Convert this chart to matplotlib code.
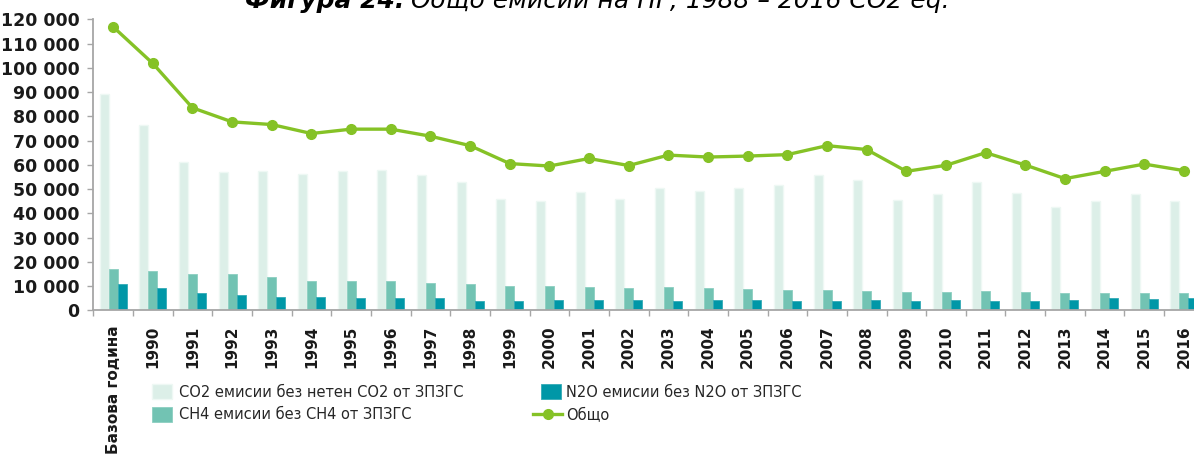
import numpy as np
import matplotlib
matplotlib.use("Agg")
import matplotlib.pyplot as plt
from matplotlib.ticker import FuncFormatter

categories = ["Базова година"] + [str(y) for y in range(1990, 2017)]
co2 = [89.4, 76.6, 61.2, 56.9, 57.6, 56.1, 57.6, 58.0, 55.7, 52.9,
       46.0, 45.0, 48.8, 45.7, 50.3, 49.3, 50.3, 51.6, 55.7, 53.7,
       45.4, 47.8, 53.0, 48.2, 42.4, 45.1, 48.1, 45.1]
ch4 = [17.0, 16.2, 15.1, 14.8, 13.9, 11.9, 11.9, 11.9, 11.3, 10.8,
       10.2, 10.2, 9.5, 9.2, 9.7, 9.0, 8.6, 8.4, 8.4, 8.1,
       7.5, 7.5, 7.9, 7.5, 7.3, 7.3, 7.3, 7.0]
n2o = [10.7, 9.3, 7.2, 6.2, 5.6, 5.5, 5.2, 5.2, 4.9, 3.9,
       3.9, 4.2, 4.2, 4.2, 3.9, 4.4, 4.4, 3.9, 3.7, 4.1,
       3.7, 4.1, 3.7, 3.7, 4.4, 5.0, 4.8, 5.2]
total = [116.9, 101.8, 83.5, 77.7, 76.6, 72.9, 74.7, 74.7, 71.8, 67.9,
         60.5, 59.5, 62.6, 59.7, 64.0, 63.2, 63.6, 64.2, 67.9, 66.3,
         57.3, 59.8, 65.0, 59.9, 54.3, 57.3, 60.3, 57.6]
scale = 1000
labels = ["CO2 емисии без нетен CO2 от ЗПЗГС", "CH4 емисии без CH4 от ЗПЗГС",
          "N2O емисии без N2O от ЗПЗГС", "Общо"]

W, H = 1194, 454
fig = plt.figure(figsize=(W / 100, H / 100), dpi=100)
ax = fig.add_axes([93.3 / W, (H - 310.3) / H, 1110.5 / W, 291.0 / H])

x = np.arange(len(categories))
bw = 0.227
b1 = ax.bar(x - bw, np.array(co2) * scale, bw, color="#dcefe8", edgecolor="#eef8f4",
            linewidth=1.0, label=labels[0], zorder=2)
b2 = ax.bar(x, np.array(ch4) * scale, bw, color="#72c3b3", edgecolor="#8ccfc1",
            linewidth=0.6, label=labels[1], zorder=2)
b3 = ax.bar(x + bw, np.array(n2o) * scale, bw, color="#0097a7", edgecolor="#33aab6",
            linewidth=0.6, label=labels[2], zorder=2)
ln, = ax.plot(x, np.array(total) * scale, color="#85c226", lw=2.4, marker="o",
              markersize=7, label=labels[3], zorder=3)

ax.set_xlim(-0.5, len(categories) - 0.5)
ax.set_ylim(0, 120000)
ax.set_yticks(np.arange(0, 120001, 10000))
ax.yaxis.set_major_formatter(FuncFormatter(lambda v, p: f"{int(v):,}".replace(",", " ")))
ax.set_xticks(x)
ax.set_xticklabels(categories, rotation=90, ha="center", va="top")
ax.set_xticks(np.arange(-0.5, len(categories), 1), minor=True)

for s in ["top", "right"]:
    ax.spines[s].set_visible(False)
for s in ["left", "bottom"]:
    ax.spines[s].set_color("#a6a6a6")
    ax.spines[s].set_linewidth(1.3)

ax.tick_params(axis="x", which="major", length=0, pad=11)
ax.tick_params(axis="x", which="minor", length=4, color="#a6a6a6", width=1)
ax.tick_params(axis="y", length=4, color="#a6a6a6", width=1, pad=6)
for t in ax.get_yticklabels():
    t.set_fontweight("bold")
    t.set_fontsize(12.5)
    t.set_color("#1a1a1a")
for t in ax.get_xticklabels():
    t.set_fontweight("bold")
    t.set_fontsize(11)
    t.set_color("#1a1a1a")

fs = 10.5
common = dict(frameon=False, borderpad=0, borderaxespad=0, handleheight=1.25,
              labelspacing=0.48, prop={"size": fs})
leg1 = fig.legend([b1, b2], labels[:2], loc="upper left",
                  bbox_to_anchor=(152 / W, 1 - 384 / H), handlelength=1.37,
                  handletextpad=0.45, **common)
leg2 = fig.legend([b3], labels[2:3], loc="upper left",
                  bbox_to_anchor=(541 / W, 1 - 384 / H), handlelength=1.37,
                  handletextpad=0.35, **common)
leg3 = fig.legend([ln], labels[3:], loc="upper left",
                  bbox_to_anchor=(533 / W, 1 - 408 / H), handlelength=2.0,
                  handletextpad=0.3, **common)
for lg in (leg1, leg2, leg3):
    for t in lg.get_texts():
        t.set_color("#262626")

# title (top clipped as in reference)
t1 = fig.text(245 / W, 1 - 8 / H, "Фигура 24.", fontsize=18, fontweight="bold",
              fontstyle="italic", ha="left", va="baseline")
fig.canvas.draw()
bb = t1.get_window_extent()
fig.text((bb.x1 + 7) / W, 1 - 8 / H, "Общо емисии на ПГ, 1988 – 2016 CO2 eq.",
         fontsize=18, fontstyle="italic", ha="left", va="baseline")

fig.savefig("out.png", dpi=100)
